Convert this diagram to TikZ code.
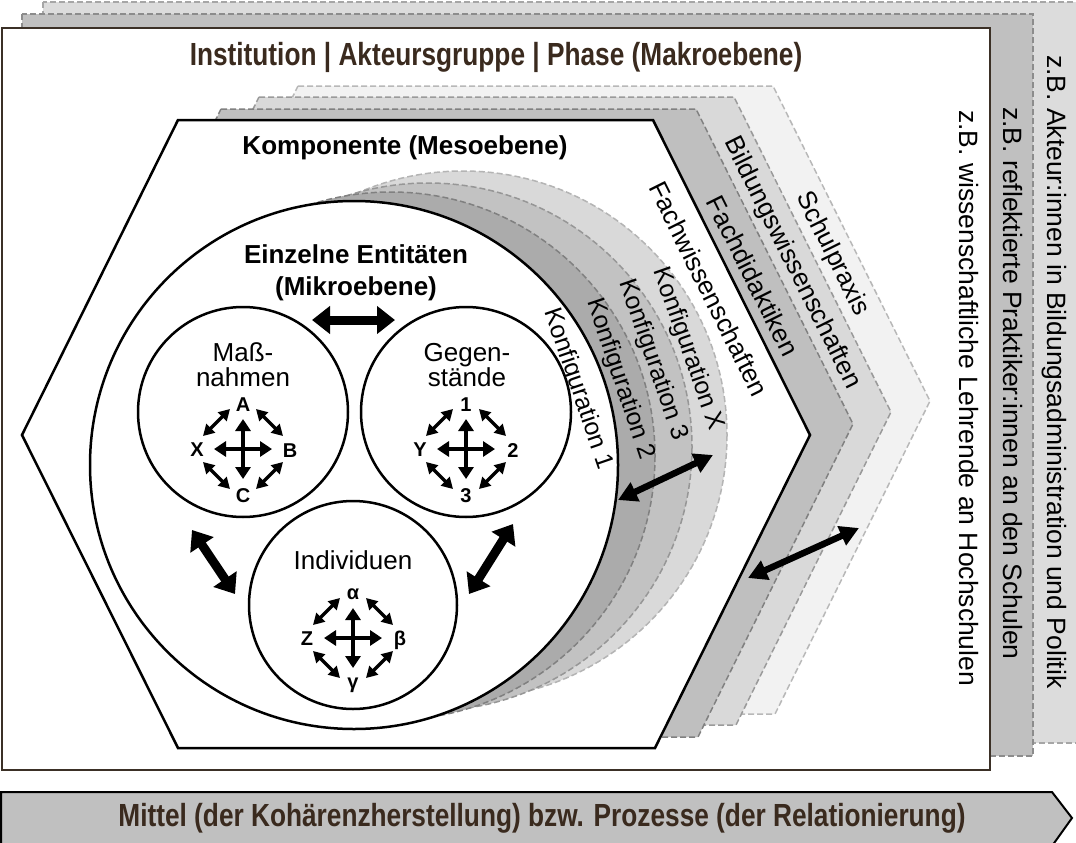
\documentclass[tikz,border=0pt]{standalone}
\usepackage{fontspec}
\setmainfont{Liberation Sans}
\newfontfamily\narrowfont[FakeStretch=0.82]{Liberation Sans}
\usetikzlibrary{arrows.meta,calc}
\definecolor{framebrown}{HTML}{3B3026}
\definecolor{textbrown}{HTML}{3A2A1E}
\definecolor{backA}{HTML}{DCDCDC}
\definecolor{dashBackA}{HTML}{A6A6A6}
\definecolor{backB}{HTML}{C0C0C0}
\definecolor{dashBackB}{HTML}{8C8C8C}
\definecolor{chevA}{HTML}{BFBFBF}
\definecolor{dashChevA}{HTML}{808080}
\definecolor{chevB}{HTML}{D9D9D9}
\definecolor{dashChevB}{HTML}{9A9A9A}
\definecolor{chevC}{HTML}{F2F2F2}
\definecolor{dashChevC}{HTML}{B8B8B8}
\definecolor{cfgB}{HTML}{ABABAB}
\definecolor{dashCfgB}{HTML}{808080}
\definecolor{cfgC}{HTML}{C2C2C2}
\definecolor{dashCfgC}{HTML}{969696}
\definecolor{cfgX}{HTML}{D9D9D9}
\definecolor{dashCfgX}{HTML}{B4B4B4}
\definecolor{bannergray}{HTML}{C0C0C0}
\tikzset{
  dashline/.style={dash pattern=on 6pt off 3pt, line width=1.5pt},
  regtext/.style={font=\fontsize{26}{25}\selectfont, inner sep=0pt},
  cfgtext/.style={font=\fontsize{25}{25}\selectfont, inner sep=0pt},
  coltext/.style={font=\fontsize{26.5}{28}\selectfont, inner sep=0pt},
  boldtext/.style={font=\bfseries\fontsize{26}{30}\selectfont, inner sep=0pt},
  narrowtitle/.style={font=\narrowfont\bfseries\fontsize{32}{36}\selectfont, text=textbrown, inner sep=0pt},
  lettertext/.style={font=\bfseries\fontsize{20}{20}\selectfont, inner sep=0pt},
  entcircle/.style={circle, draw=black, line width=2.5pt, fill=white, inner sep=0pt},
  crossarrow/.style={line width=4.5pt, arrows={Triangle[length=12pt,width=15pt]-Triangle[length=12pt,width=15pt]}},
  diagarrow/.style={line width=3.5pt, arrows={Triangle[length=11pt,width=12pt]-Triangle[length=11pt,width=12pt]}},
  bigarrow/.style={line width=9pt, arrows={Triangle[length=18pt,width=27pt]-Triangle[length=18pt,width=27pt]}},
  midarrow/.style={line width=6.5pt, arrows={Triangle[length=19pt,width=20pt]-Triangle[length=19pt,width=20pt]}},
  pics/entcross/.style n args={4}{code={
    \coordinate (-w) at (-29,0); \coordinate (-e) at (29,0);
    \coordinate (-n) at (0,-30); \coordinate (-s) at (0,30);
    \draw[crossarrow] (-w) -- (-e);
    \draw[crossarrow] (-n) -- (-s);
    \coordinate (-nw1) at (-40,-13); \coordinate (-nw2) at (-13,-40);
    \coordinate (-ne1) at (13,-40); \coordinate (-ne2) at (40,-13);
    \coordinate (-se1) at (40,13); \coordinate (-se2) at (13,40);
    \coordinate (-sw1) at (-13,40); \coordinate (-sw2) at (-40,13);
    \draw[diagarrow] (-nw1) -- (-nw2);
    \draw[diagarrow] (-ne1) -- (-ne2);
    \draw[diagarrow] (-se1) -- (-se2);
    \draw[diagarrow] (-sw1) -- (-sw2);
    \node[lettertext] (-top) at (0,-44) {#1};
    \node[lettertext] (-right) at (47,2) {#2};
    \node[lettertext] (-bottom) at (0,47) {#3};
    \node[lettertext] (-left) at (-46,1) {#4};
  }}
}
\begin{document}
\begin{tikzpicture}[x=1pt,y=-1pt]
\useasboundingbox (0,0) rectangle (1076,843);
\fill[white] (0,0) rectangle (1076,843);
% stacked frames (macro level)
\draw[fill=backA, draw=dashBackA, dashline] (43,2) rectangle (1095,743);
\draw[fill=backB, draw=dashBackB, dashline] (22,14) rectangle (1033,756);
\draw[fill=white, draw=framebrown, line width=2.5pt] (2,28) rectangle (990,770);
\node[narrowtitle] (macro) at (496,57) {Institution | Akteursgruppe | Phase (Makroebene)};
% right column texts
\node[coltext, anchor=base west, rotate=-90] (col1) at (1047,55) {z.B. Akteur:innen in Bildungsadministration und Politik};
\node[coltext, anchor=base west, rotate=-90] (col2) at (1003,107) {z.B. reflektierte Praktiker:innen an den Schulen};
\node[coltext, anchor=base west, rotate=-90] (col3) at (959,110) {z.B. wissenschaftliche Lehrende an Hochschulen};
% chevron layers behind the hexagon
\foreach \dx/\dy/\fc/\dc in {120/-34/chevC/dashChevC, 81/-23/chevB/dashChevB, 43/-11/chevA/dashChevA}{
  \draw[shift={(\dx,\dy)}, fill=\fc, draw=\dc, dashline] (178,120) -- (653,120) -- (810,435) -- (655,748) -- (178,748) -- (22,435) -- cycle;
}
% hexagon (meso level)
\draw[fill=white, draw=black, line width=2.5pt] (178,120) -- (653,120) -- (810,435) -- (655,748) -- (178,748) -- (22,435) -- cycle;
\node[boldtext] (meso) at (405,148) {Komponente (Mesoebene)};
% chevron labels
\node[regtext, rotate=-63.5] (fw) at (709,289) {Fachwissenschaften};
\node[regtext, rotate=-63.5] (fd) at (753,276) {Fachdidaktiken};
\node[regtext, rotate=-63.5] (bw) at (792,263) {Bildungswissenschaften};
\node[regtext, rotate=-63.5] (sp) at (832,254) {Schulpraxis};
% configuration layers
\foreach \cx/\cy/\fc/\dc in {463/435/cfgX/dashCfgX, 428/447/cfgC/dashCfgC, 391/456/cfgB/dashCfgB}{
  \draw[fill=\fc, draw=\dc, dashline] (\cx,\cy) circle[radius=264];
}
% big circle (micro level)
\node[entcircle, minimum size=528pt] (ent) at (354,465) {};
\node[boldtext, anchor=base] (ent1) at (356,263) {Einzelne Entitäten};
\node[boldtext, anchor=base] (ent2) at (356,295) {(Mikroebene)};
% configuration labels
\node[cfgtext, rotate=-71] (k1) at (578,389) {Konfiguration 1};
\node[cfgtext, rotate=-71.5] (k2) at (620,379) {Konfiguration 2};
\node[cfgtext, rotate=-71] (k3) at (653,360) {Konfiguration 3};
\node[cfgtext, rotate=-70.5] (kx) at (688,349) {Konfiguration X};
% three entity circles
\node[entcircle, minimum size=210pt] (mass) at (243,412) {};
\node[entcircle, minimum size=210pt] (geg) at (466,412) {};
\node[entcircle, minimum size=208pt] (ind) at (353,605) {};
\node[regtext, align=center] (masst) at (243,365) {Maß-\\nahmen};
\node[regtext, align=center] (gegt) at (467,365) {Gegen-\\stände};
\node[regtext] (indt) at (353,560) {Individuen};
\pic (mc) at (243,449) {entcross={A}{B}{C}{X}};
\pic (gc) at (466,449) {entcross={1}{2}{3}{Y}};
\pic (ic) at (353,638) {entcross={α}{β}{γ}{Z}};
% relation arrows
\coordinate (ta) at (312,320); \coordinate (tb) at (395,320);
\draw[bigarrow] (ta) -- (tb);
\coordinate (la) at (192,530); \coordinate (lb) at (235,594);
\draw[bigarrow] (la) -- (lb);
\coordinate (ra) at (513,524); \coordinate (rb) at (469,594);
\draw[bigarrow] (ra) -- (rb);
\coordinate (ca) at (618,500); \coordinate (cb) at (713,455);
\draw[midarrow] (ca) -- (cb);
\coordinate (ha) at (748,578); \coordinate (hb) at (859,528);
\draw[midarrow] (ha) -- (hb);
% bottom banner
\draw[fill=bannergray, draw=black, line width=2pt] (1,792) -- (1052,792) -- (1072,818) -- (1052,846) -- (1,846) -- cycle;
\node[narrowtitle] (mittel) at (542,818) {Mittel (der Kohärenzherstellung) bzw. Prozesse (der Relationierung)};
\end{tikzpicture}
\end{document}
